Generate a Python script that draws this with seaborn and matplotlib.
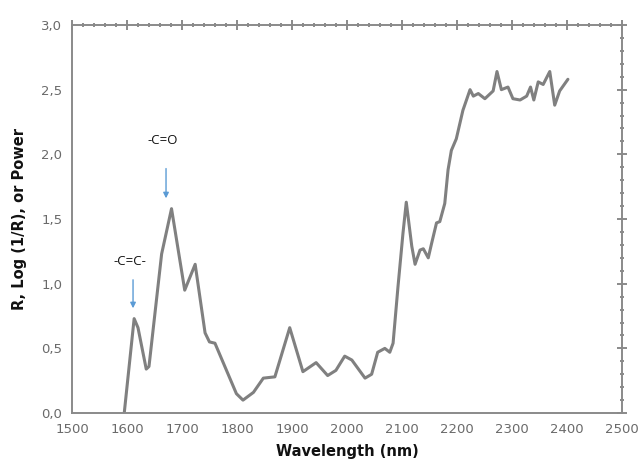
import matplotlib
matplotlib.use("Agg")
import matplotlib.pyplot as plt
from matplotlib.ticker import MultipleLocator, FuncFormatter
import seaborn as sns
import pandas as pd

# NIR spectrum trace
wavelength = [1595, 1613, 1620, 1635, 1640, 1663, 1681, 1705, 1724, 1742, 1750, 1760,
              1799, 1811, 1830, 1848, 1869, 1896, 1920, 1944, 1965, 1980, 1996, 2009,
              2033, 2045, 2056, 2069, 2078, 2084, 2093, 2102, 2108, 2118, 2124, 2133,
              2139, 2148, 2154, 2163, 2169, 2178, 2184, 2190, 2199, 2211, 2224, 2230,
              2239, 2251, 2266, 2273, 2281, 2293, 2302, 2315, 2327, 2334, 2340, 2348,
              2357, 2369, 2378, 2387, 2402]
signal = [0.00, 0.73, 0.66, 0.34, 0.36, 1.23, 1.58, 0.95, 1.15, 0.62, 0.55, 0.54,
          0.15, 0.10, 0.16, 0.27, 0.28, 0.66, 0.32, 0.39, 0.29, 0.33, 0.44, 0.41,
          0.27, 0.30, 0.47, 0.50, 0.47, 0.54, 0.98, 1.39, 1.63, 1.29, 1.15, 1.26,
          1.27, 1.20, 1.31, 1.47, 1.48, 1.62, 1.88, 2.03, 2.12, 2.34, 2.50, 2.45,
          2.47, 2.43, 2.49, 2.64, 2.50, 2.52, 2.43, 2.42, 2.45, 2.52, 2.42, 2.56,
          2.54, 2.64, 2.38, 2.49, 2.58]

# Band annotations: label, wavelength, text height, arrow top, arrow tip
bands = ["-C=C-", "-C=O"]
band_x = [1611, 1671]
band_text_y = [1.17, 2.11]
band_arrow_top = [1.03, 1.89]
band_arrow_tip = [0.81, 1.66]

sns.set_style("white")
fig = plt.figure(figsize=(6.43, 4.71), dpi=100)
ax = fig.add_axes([0.112, 0.123, 0.855, 0.824])

df = pd.DataFrame({"Wavelength": wavelength, "Signal": signal})
sns.lineplot(data=df, x="Wavelength", y="Signal", ax=ax, color="#808080",
             linewidth=2.2, sort=False)

ax.set_xlim(1500, 2500)
ax.set_ylim(0, 3.0)
ax.xaxis.set_major_locator(MultipleLocator(100))
ax.xaxis.set_minor_locator(MultipleLocator(20))
ax.yaxis.set_major_locator(MultipleLocator(0.5))
ax.yaxis.set_minor_locator(MultipleLocator(0.1))
ax.yaxis.set_major_formatter(FuncFormatter(lambda v, p: f"{v:.1f}".replace(".", ",")))

ax.tick_params(which="major", direction="inout", length=7, width=1.2, color="#777777",
               labelcolor="#6a6a6a", labelsize=9.5, top=True, right=True,
               labeltop=False, labelright=False)
ax.tick_params(which="minor", direction="inout", length=3.5, width=1.2, color="#777777",
               top=True, right=True)
for s in ax.spines.values():
    s.set_color("#8a8a8a")
    s.set_linewidth(1.4)

ax.set_xlabel("Wavelength (nm)", fontsize=10.5, fontweight="bold", color="#111111",
              labelpad=6)
ax.set_ylabel("R, Log (1/R), or Power", fontsize=10.5, fontweight="bold",
              color="#111111", labelpad=10)

for lab, x, ty, a0, a1 in zip(bands, band_x, band_text_y, band_arrow_top, band_arrow_tip):
    ax.text(x - 6, ty, lab, ha="center", va="center", fontsize=9.5,
            family=["Open Sans", "DejaVu Sans"], color="#111111")
    ax.annotate("", xy=(x, a1), xytext=(x, a0),
                arrowprops=dict(arrowstyle="-|>", color="#5b9bd5", lw=1.0,
                                mutation_scale=8, shrinkA=0, shrinkB=0))

fig.savefig("out.png", dpi=100)
